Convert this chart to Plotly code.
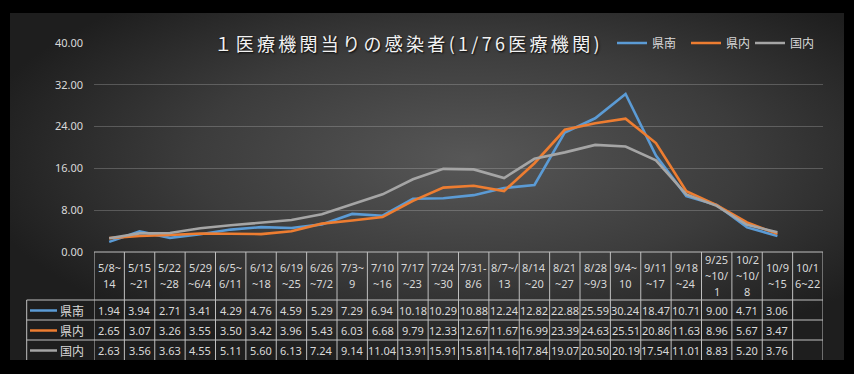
import base64
import plotly.graph_objects as go

# ---------------- data ----------------
categories = ["5/8~<br>14", "5/15<br>~21", "5/22<br>~28", "5/29<br>~6/4", "6/5~<br>6/11",
              "6/12<br>~18", "6/19<br>~25", "6/26<br>~7/2", "7/3~<br>9", "7/10<br>~16",
              "7/17<br>~23", "7/24<br>~30", "7/31-<br>8/6", "8/7~/<br>13", "8/14<br>~20",
              "8/21<br>~27", "8/28<br>~9/3", "9/4~<br>10", "9/11<br>~17", "9/18<br>~24",
              "9/25<br>~10/<br>1", "10/2<br>~10/<br>8", "10/9<br>~15", "10/1<br>6~22"]
kennan = [1.94, 3.94, 2.71, 3.41, 4.29, 4.76, 4.59, 5.29, 7.29, 6.94, 10.18, 10.29, 10.88,
          12.24, 12.82, 22.88, 25.59, 30.24, 18.47, 10.71, 9.00, 4.71, 3.06, None]
kennai = [2.65, 3.07, 3.26, 3.55, 3.50, 3.42, 3.96, 5.43, 6.03, 6.68, 9.79, 12.33, 12.67,
          11.67, 16.99, 23.39, 24.63, 25.51, 20.86, 11.63, 8.96, 5.67, 3.47, None]
kokunai = [2.63, 3.56, 3.63, 4.55, 5.11, 5.60, 6.13, 7.24, 9.14, 11.04, 13.91, 15.91, 15.81,
           14.16, 17.84, 19.07, 20.50, 20.19, 17.54, 11.01, 8.83, 5.20, 3.76, None]
series_names = ["県南", "県内", "国内"]
series_values = [kennan, kennai, kokunai]
series_colors = ["#5B9BD5", "#ED7D31", "#A5A5A5"]
y_ticks = [0, 8, 16, 24, 32, 40]
title_text = "１医療機関当りの感染者(1/76医療機関)"

# ---------------- geometry ----------------
W, H = 854, 374
L, R, T, B = 94, 31, 43, 122
PW, PH = W - L - R, H - T - B
n = len(categories)


def px_x(px):
    return (px - L) / PW


def px_y(py):
    return (H - B - py) / PH


TXT = "#D9D9D9"
LINE = "#BFBFBF"
FONT = "Noto Sans, Noto Sans CJK JP, sans-serif"
CJK = "Noto Sans CJK JP"

fig = go.Figure()
legend_keys = ["legend", "legend2", "legend3"]
for name, vals, col, lg in zip(series_names, series_values, series_colors, legend_keys):
    fig.add_trace(go.Scatter(x=list(range(n)), y=vals, name=name, mode="lines",
                             line=dict(color=col, width=2.6), connectgaps=False, legend=lg))

# background radial gradient
svg = ('<svg xmlns="http://www.w3.org/2000/svg" width="834" height="347">'
       '<defs><radialGradient id="g" cx="55%" cy="42%" r="60%">'
       '<stop offset="0" stop-color="#575757"/><stop offset="0.55" stop-color="#3c3c3c"/>'
       '<stop offset="1" stop-color="#1e1e1e"/></radialGradient></defs>'
       '<rect width="834" height="347" fill="url(#g)"/></svg>')
src = "data:image/svg+xml;base64," + base64.b64encode(svg.encode()).decode()

shapes = []
yb0 = px_y(252)
ytop_rows = [px_y(300), px_y(320), px_y(340)]
ybot = px_y(360)
shapes.append(dict(type="line", xref="x", yref="paper", x0=-0.5, x1=n - 0.5, y0=yb0, y1=yb0,
                   line=dict(color=LINE, width=1)))
for yy in ytop_rows:
    shapes.append(dict(type="line", xref="paper", yref="paper", x0=px_x(26.7), x1=1, y0=yy, y1=yy,
                       line=dict(color=LINE, width=1)))
for i in range(n + 1):
    shapes.append(dict(type="line", xref="x", yref="paper", x0=i - 0.5, x1=i - 0.5, y0=yb0, y1=ybot,
                       line=dict(color=LINE, width=1)))
shapes.append(dict(type="line", xref="paper", yref="paper", x0=px_x(26.7), x1=px_x(26.7),
                   y0=ytop_rows[0], y1=ybot, line=dict(color=LINE, width=1)))

annotations = []
# title (index 0)
annotations.append(dict(text=title_text, xref="paper", yref="paper", x=px_x(408), y=px_y(43),
                        xanchor="center", yanchor="middle", showarrow=False,
                        font=dict(family=CJK, size=18, color="#F2F2F2",
                                  shadow="1px 1px 2px rgba(0,0,0,0.9)")))
# header labels, one annotation per text line, 16 px pitch
for i, c in enumerate(categories):
    parts = c.split("<br>")
    k = len(parts)
    for j, p in enumerate(parts):
        yy = 275 + (j - (k - 1) / 2) * 16
        annotations.append(dict(text=p, xref="x", yref="paper", x=i, y=px_y(yy), xanchor="center",
                                yanchor="middle", showarrow=False,
                                font=dict(family=FONT, size=11, color=TXT)))
# table values and row labels
row_y = [310.5, 330.5, 350.5]
for name, vals, col, ry in zip(series_names, series_values, series_colors, row_y):
    for i, v in enumerate(vals):
        if v is None:
            continue
        annotations.append(dict(text=f"{v:.2f}", xref="x", yref="paper", x=i, y=px_y(ry),
                                xanchor="center", yanchor="middle", showarrow=False,
                                font=dict(family=FONT, size=11, color=TXT)))
    shapes.append(dict(type="line", xref="paper", yref="paper", x0=px_x(30), x1=px_x(57),
                       y0=px_y(ry), y1=px_y(ry), line=dict(color=col, width=2.5)))
    annotations.append(dict(text=name, xref="paper", yref="paper", x=px_x(58), y=px_y(ry),
                            xanchor="left", yanchor="middle", showarrow=False,
                            font=dict(family=CJK, size=12, color=TXT)))


def legend_at(px):
    return dict(orientation="h", x=px_x(px), y=px_y(43), xanchor="left", yanchor="middle",
                bgcolor="rgba(0,0,0,0)", font=dict(family=CJK, size=12, color=TXT),
                itemwidth=30)


fig.update_layout(
    width=W, height=H,
    margin=dict(l=L, r=R, t=T, b=B, pad=0),
    paper_bgcolor="#000000",
    plot_bgcolor="rgba(0,0,0,0)",
    font=dict(family=FONT, color=TXT, size=11),
    showlegend=True,
    legend=legend_at(612), legend2=legend_at(686), legend3=legend_at(750),
    xaxis=dict(range=[-0.5, n - 0.5], showticklabels=False, showgrid=False, zeroline=False,
               showline=False, ticks=""),
    yaxis=dict(range=[0, 40], tickvals=y_ticks, tickformat=".2f", showgrid=True,
               gridcolor="rgba(200,200,200,0.28)", gridwidth=1, zeroline=False, showline=False,
               ticks="", ticklabelstandoff=10, tickfont=dict(family=FONT, size=11, color=TXT)),
    shapes=shapes,
    annotations=annotations,
    images=[dict(source=src, xref="paper", yref="paper", x=px_x(10), y=px_y(13),
                 sizex=834 / PW, sizey=347 / PH, xanchor="left", yanchor="top",
                 sizing="stretch", layer="below")],
)

post = ("document.body.style.margin='0';document.body.style.background='#000';"
        "var s=document.createElement('style');"
        "s.textContent='.annotation[data-index=\"0\"] .annotation-text{letter-spacing:3.3px}';"
        "document.head.appendChild(s);")
fig.write_html("out.html", post_script=post, config={"displayModeBar": False})
